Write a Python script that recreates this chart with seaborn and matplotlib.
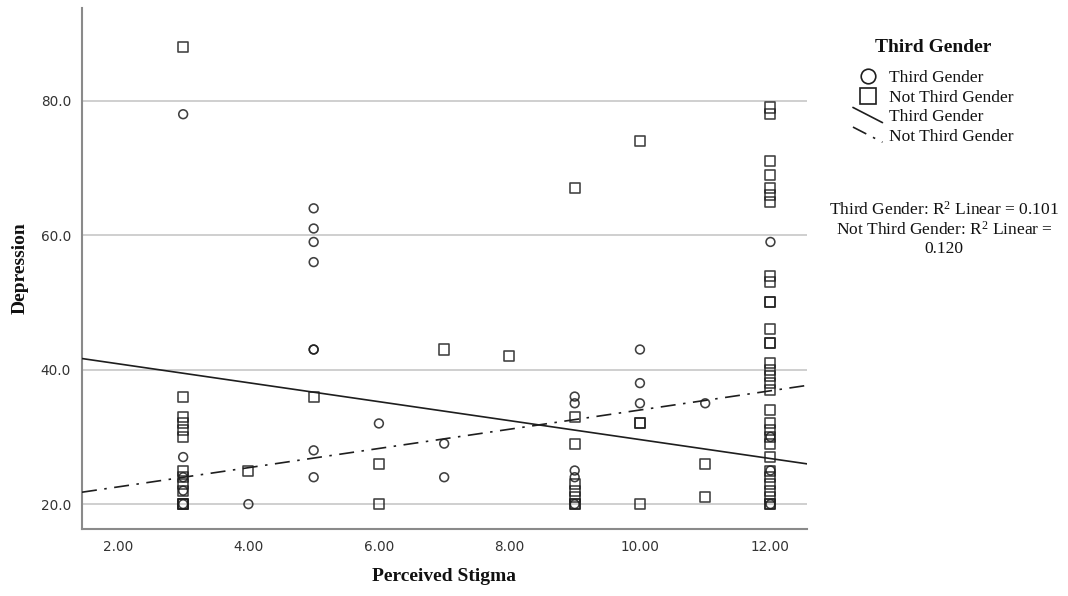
import numpy as np
import pandas as pd
import matplotlib
matplotlib.use("Agg")
import matplotlib.pyplot as plt
import seaborn as sns
from matplotlib.lines import Line2D
from matplotlib.legend_handler import HandlerLine2D

# ---------------- data ----------------
third_x = [3, 3, 3, 3, 3,
           4,
           5, 5, 5, 5, 5, 5, 5, 5,
           6,
           7, 7,
           9, 9, 9, 9, 9,
           10, 10, 10,
           11,
           12, 12, 12, 12]
third_y = [78, 27, 24, 22, 20,
           20,
           64, 61, 59, 56, 43, 43, 28, 24,
           32,
           29, 24,
           36, 35, 25, 24, 20,
           43, 38, 35,
           35,
           59, 30, 25, 20]

not_third_x = [3] * 13 + [4, 5, 6, 6, 7, 8] + [9] * 8 + [10] * 4 + [11, 11] + [12] * 32
not_third_y = [88, 36, 33, 32, 31, 30, 25, 24, 23, 22, 20, 20, 20,
               25,
               36,
               26, 20,
               43,
               42,
               67, 33, 29, 23, 22, 21, 20, 20,
               74, 32, 32, 20,
               26, 21,
               79, 78, 71, 69, 67, 66, 65, 54, 53, 50, 50, 46, 44, 44, 41, 40,
               39, 38, 37, 34, 32, 31, 30, 29, 27, 25, 24, 23, 22, 21, 20, 20]

fit_groups = ["Third Gender", "Not Third Gender"]
fit_intercept = [43.7, 19.7]   # fitted lines as drawn in the reference
fit_slope = [-1.41, 1.43]
r2_values = [0.101, 0.120]

x_ticks = [2, 4, 6, 8, 10, 12]
x_tick_labels = ["2.00", "4.00", "6.00", "8.00", "10.00", "12.00"]
y_ticks = [20, 40, 60, 80]
y_tick_labels = ["20.0", "40.0", "60.0", "80.0"]

# ---------------- figure ----------------
sns.set_theme(style="white")
plt.rcParams["font.family"] = ["DejaVu Sans"]
plt.rcParams["mathtext.fontset"] = "custom"
plt.rcParams["mathtext.rm"] = "Liberation Serif"
plt.rcParams["mathtext.it"] = "Liberation Serif:italic"
plt.rcParams["mathtext.bf"] = "Liberation Serif:bold"

SERIF = "Liberation Serif"
INK = "#1e1e1e"

fig = plt.figure(figsize=(10.68, 5.96), dpi=100)
ax = fig.add_axes([82 / 1068, 1 - 529 / 596, (807 - 82) / 1068, (529 - 8) / 596])

xlim = (1.45, 12.56)
ylim = (16.3, 93.8)

df_third = pd.DataFrame({"Perceived Stigma": third_x, "Depression": third_y})
df_not = pd.DataFrame({"Perceived Stigma": not_third_x, "Depression": not_third_y})

sns.scatterplot(data=df_not, x="Perceived Stigma", y="Depression", marker="s", s=52,
                facecolor="none", edgecolor=INK, linewidth=1.15, alpha=0.85, ax=ax, zorder=3)
sns.scatterplot(data=df_third, x="Perceived Stigma", y="Depression", marker="o", s=40,
                facecolor="none", edgecolor=INK, linewidth=1.15, alpha=0.85, ax=ax, zorder=3)

rows = []
for g, b0, b1 in zip(fit_groups, fit_intercept, fit_slope):
    for xv in xlim:
        rows.append({"x": xv, "y": b0 + b1 * xv, "fit": g})
fit_df = pd.DataFrame(rows)
sns.lineplot(data=fit_df, x="x", y="y", style="fit", estimator=None,
             dashes={"Third Gender": "", "Not Third Gender": (9, 4.5, 1.5, 4.5)},
             color=INK, linewidth=1.2, legend=False, ax=ax, zorder=4)

ax.set_xlim(*xlim)
ax.set_ylim(*ylim)
ax.set_xticks(x_ticks)
ax.set_xticklabels(x_tick_labels)
ax.set_yticks(y_ticks)
ax.set_yticklabels(y_tick_labels)
ax.tick_params(length=0, pad=8, labelsize=9.8, labelcolor="#333333")
ax.yaxis.grid(True, color="#cfcfcf", linewidth=1.4)
ax.xaxis.grid(False)
ax.set_axisbelow(True)
for side in ["top", "right"]:
    ax.spines[side].set_visible(False)
for side in ["left", "bottom"]:
    ax.spines[side].set_color("#8a8a8a")
    ax.spines[side].set_linewidth(1.5)

ax.set_xlabel("Perceived Stigma", fontfamily=SERIF, fontweight="bold", fontsize=14, color="#111111")
ax.set_ylabel("Depression", fontfamily=SERIF, fontweight="bold", fontsize=14, color="#111111")
ax.xaxis.set_label_coords(0.5, -0.092)
ax.xaxis.label.set_verticalalignment("center")
ax.yaxis.set_label_coords(-0.086, 0.5)
ax.yaxis.label.set_verticalalignment("center")


class DiagHandler(HandlerLine2D):
    def create_artists(self, legend, orig_handle, xdescent, ydescent,
                       width, height, fontsize, trans):
        line = Line2D([-xdescent, width - xdescent],
                      [height * 1.15 - ydescent, -ydescent - height * 0.1])
        self.update_prop(line, orig_handle, legend)
        line.set_transform(trans)
        return [line]


h1 = Line2D([], [], marker="o", ls="none", mfc="none", mec=INK, mew=1.2, markersize=10.5)
h2 = Line2D([], [], marker="s", ls="none", mfc="none", mec=INK, mew=1.2, markersize=11.5)
h3 = Line2D([], [], ls="-", color=INK, lw=1.2)
h4 = Line2D([], [], ls=(0, (9, 4.5, 1.5, 4.5)), color=INK, lw=1.2)

fig.text(933 / 1068, 1 - 48 / 596, "Third Gender", ha="center", va="center",
         fontfamily=SERIF, fontweight="bold", fontsize=14, color="#111111")
leg = fig.legend([h1, h2, h3, h4],
                 ["Third Gender", "Not Third Gender", "Third Gender", "Not Third Gender"],
                 handler_map={h3: DiagHandler(), h4: DiagHandler()},
                 loc="upper center", bbox_to_anchor=(933 / 1068, 1 - 70 / 596),
                 frameon=False,
                 prop={"family": SERIF, "size": 12.5},
                 handlelength=1.7, handletextpad=0.35, labelspacing=0.2,
                 borderpad=0, borderaxespad=0)
for t in leg.get_texts():
    t.set_color("#111111")

r2_text = (f"Third Gender: R$^{{2}}$ Linear = {r2_values[0]:.3f}\n"
           f"Not Third Gender: R$^{{2}}$ Linear =\n{r2_values[1]:.3f}")
fig.text(944 / 1068, 1 - 229 / 596, r2_text, ha="center", va="center",
         multialignment="center", fontfamily=SERIF, fontsize=12.5,
         linespacing=1.15, color="#111111")

fig.savefig("out.png", dpi=100, facecolor="white")
